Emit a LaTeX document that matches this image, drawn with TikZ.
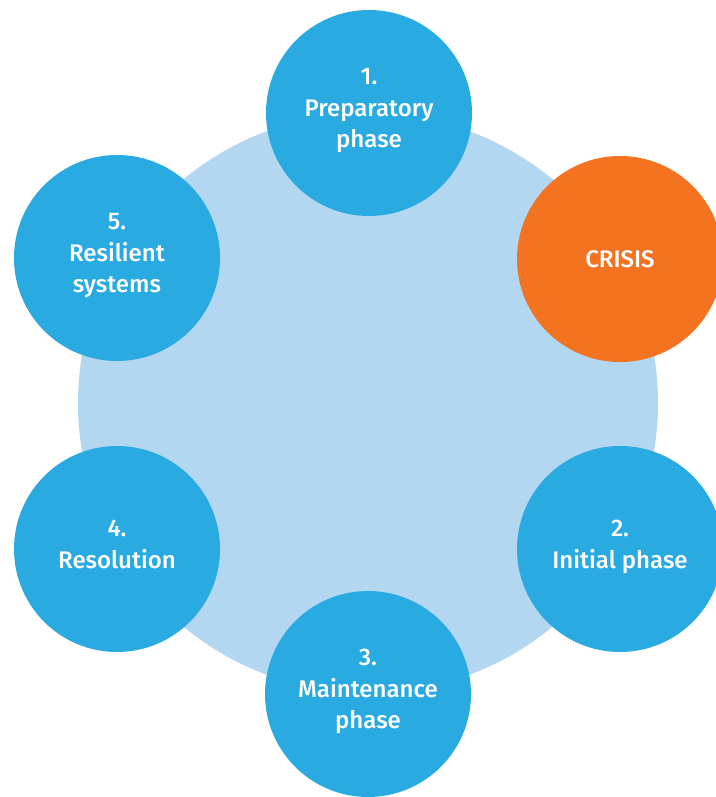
\documentclass[tikz,border=0pt]{standalone}
\usepackage{fontspec}
\setmainfont{Fira Sans}[UprightFont=* Medium]
\definecolor{phaseblue}{HTML}{29AAE1}
\definecolor{ringblue}{HTML}{B3D6F1}
\definecolor{crisisorange}{HTML}{F37321}
\tikzset{
  phase/.style={circle, fill=phaseblue, minimum size=206*0.03cm, inner sep=0pt,
    text=white, align=center, text depth=0.3cm, font=\fontsize{20.5}{27}\selectfont},
  crisis/.style={phase, fill=crisisorange, text depth=0pt}
}
\begin{document}
\begin{tikzpicture}[x=0.03cm,y=-0.03cm]
       \useasboundingbox (0,0) rectangle (715,797);
       \fill[ringblue] (368,403) circle (290);
       \node[phase] (prep) at (369,113) {1.\\Preparatory\\phase};
       \node[crisis] (crisis) at (620,259) {CRISIS};
       \foreach \name/\x/\y/\txt in {
         initial/620/549/{2.\\Initial phase},
         maint/368/694/{3.\\Maintenance\\phase},
         resol/117/549/{4.\\Resolution},
         resil/117/258/{5.\\Resilient\\systems}}
       {
         \node[phase] (\name) at (\x,\y) {\txt};
       }
     \end{tikzpicture}
\end{document}
